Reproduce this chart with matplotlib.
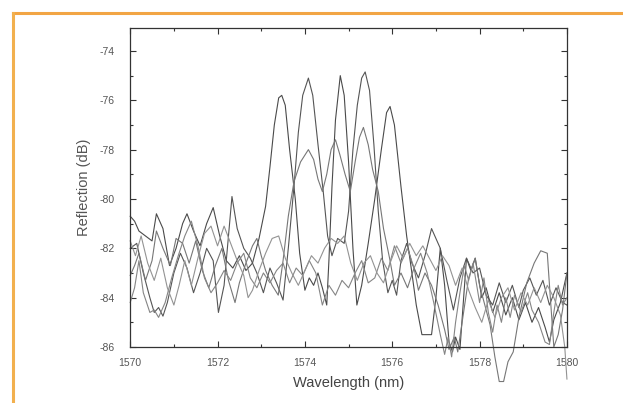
import matplotlib
matplotlib.use("Agg")
import matplotlib.pyplot as plt
from matplotlib.lines import Line2D
from matplotlib.ticker import MultipleLocator

plt.rcParams['font.family'] = ['Liberation Sans', 'DejaVu Sans']
plt.rcParams['axes.unicode_minus'] = False

# trace 1: peaks at 1573.5, 1574.8, 1576.0
x1 = [1570.0, 1570.1, 1570.2, 1570.35, 1570.5, 1570.6, 1570.75, 1570.9, 1571.05, 1571.2,
      1571.3, 1571.45, 1571.6, 1571.75, 1571.9, 1572.05, 1572.2, 1572.35, 1572.5, 1572.65,
      1572.8, 1572.95, 1573.1, 1573.2, 1573.3, 1573.4, 1573.47, 1573.55, 1573.65, 1573.78,
      1573.88, 1574.0, 1574.1, 1574.2, 1574.3, 1574.4, 1574.5, 1574.55, 1574.62, 1574.7,
      1574.81, 1574.9, 1575.0, 1575.1, 1575.19, 1575.3, 1575.45, 1575.6, 1575.75, 1575.87,
      1575.95, 1576.05, 1576.2, 1576.33, 1576.45, 1576.55, 1576.68, 1576.78, 1576.9, 1577.0,
      1577.1, 1577.2, 1577.3, 1577.38, 1577.45, 1577.55, 1577.7, 1577.8, 1577.9, 1578.05,
      1578.15, 1578.3, 1578.45, 1578.6, 1578.75, 1578.9, 1579.05, 1579.2, 1579.35, 1579.5,
      1579.6, 1579.7, 1579.85, 1580.0]
y1 = [-80.7, -80.9, -81.3, -81.5, -81.7, -80.6, -81.2, -82.7, -82.0, -81.0,
      -80.6, -81.3, -81.9, -81.0, -80.35, -81.5, -82.5, -82.8, -82.3, -82.9,
      -82.6, -81.6, -80.3, -78.7, -77.0, -75.9, -75.8, -76.2, -78.0, -80.0,
      -82.2, -83.7, -83.2, -83.5, -83.0, -83.6, -84.3, -82.5, -79.5, -76.8,
      -75.0, -75.8, -78.5, -82.0, -84.3, -83.5, -81.8, -80.0, -78.0, -76.5,
      -76.25, -77.0, -79.5, -81.5, -83.0, -84.3, -85.5, -85.5, -85.5, -84.0,
      -82.0, -83.5, -85.8, -86.2, -85.6, -86.1, -82.4, -82.9, -82.4, -84.0,
      -83.6, -84.6, -83.8, -84.7, -84.0, -84.9, -84.2, -85.0, -84.4, -85.2,
      -85.8, -84.9, -84.2, -83.0]

# trace 2: peaks at 1574.1, 1575.4
x2 = [1570.0, 1570.15, 1570.3, 1570.45, 1570.55, 1570.65, 1570.75, 1570.85, 1571.0, 1571.15,
      1571.3, 1571.45, 1571.6, 1571.75, 1571.9, 1572.02, 1572.15, 1572.25, 1572.33, 1572.45,
      1572.6, 1572.75, 1572.9, 1573.05, 1573.2, 1573.35, 1573.5, 1573.62, 1573.75, 1573.85,
      1573.95, 1574.08, 1574.18, 1574.3, 1574.42, 1574.52, 1574.62, 1574.75, 1574.9, 1575.0,
      1575.1, 1575.2, 1575.3, 1575.38, 1575.48, 1575.58, 1575.68, 1575.78, 1575.9, 1576.0,
      1576.1, 1576.2, 1576.33, 1576.45, 1576.6, 1576.75, 1576.9, 1577.0, 1577.1, 1577.25,
      1577.4, 1577.55, 1577.7, 1577.85, 1578.0, 1578.15, 1578.3, 1578.45, 1578.6, 1578.75,
      1578.9, 1579.0, 1579.15, 1579.3, 1579.45, 1579.6, 1579.75, 1579.9, 1580.0]
y2 = [-82.0, -81.8, -83.0, -84.0, -84.6, -84.4, -84.75, -84.2, -83.0, -82.2,
      -82.8, -83.8, -83.0, -82.0, -82.5, -84.6, -83.5, -81.5, -79.9, -81.2,
      -82.0, -82.4, -83.0, -83.8, -82.8, -83.4, -84.1, -82.0, -79.5, -77.3,
      -75.8, -75.1, -75.8, -77.8, -79.7, -81.5, -82.3, -81.6, -81.8, -80.5,
      -78.0, -76.2, -75.1, -74.85, -75.6, -77.8, -80.5, -82.5, -83.8, -83.3,
      -83.9, -82.5, -81.8, -82.6, -83.2, -82.3, -81.2, -81.6, -82.0, -83.3,
      -84.5, -83.2, -82.4, -83.0, -82.8, -83.9, -84.3, -83.4, -84.2, -83.5,
      -84.4, -83.7, -83.2, -83.9, -83.3, -84.3, -83.6, -84.2, -84.3]

# trace 3: lower comb 1574.1 / 1574.7 / 1575.3
x3 = [1570.0, 1570.1, 1570.2, 1570.35, 1570.5, 1570.6, 1570.75, 1570.92, 1571.05, 1571.2,
      1571.35, 1571.5, 1571.65, 1571.8, 1571.95, 1572.1, 1572.25, 1572.4, 1572.5, 1572.65,
      1572.8, 1572.9, 1573.0, 1573.1, 1573.25, 1573.39, 1573.5, 1573.62, 1573.75, 1573.9,
      1574.08, 1574.2, 1574.3, 1574.4, 1574.5, 1574.6, 1574.7, 1574.8, 1574.92, 1575.04,
      1575.15, 1575.25, 1575.34, 1575.45, 1575.55, 1575.68, 1575.8, 1575.95, 1576.05, 1576.2,
      1576.35, 1576.5, 1576.6, 1576.75, 1576.9, 1577.05, 1577.2, 1577.3, 1577.42, 1577.5,
      1577.6, 1577.75, 1577.9, 1578.0, 1578.12, 1578.24, 1578.35, 1578.45, 1578.55, 1578.65,
      1578.77, 1578.9, 1579.08, 1579.25, 1579.4, 1579.55, 1579.62, 1579.7, 1579.8, 1579.9,
      1580.0]
y3 = [-83.1, -82.7, -82.2, -83.3, -82.5, -81.3, -82.0, -82.7, -81.6, -81.8,
      -82.6, -81.7, -82.9, -83.6, -82.7, -82.0, -83.3, -84.2, -83.4, -82.6,
      -81.9, -81.6, -82.3, -82.9, -83.5, -83.9, -82.5, -80.7, -79.3, -78.5,
      -78.0, -78.4, -79.2, -79.7, -79.0, -78.0, -77.6, -78.2, -79.0, -79.7,
      -78.5, -77.5, -77.1, -77.8, -78.8, -79.7, -81.2, -82.5, -83.5, -83.0,
      -83.6, -82.8, -83.7, -83.0, -83.5, -84.3, -85.3, -86.1, -85.6, -86.2,
      -85.0, -83.2, -82.4, -83.5, -84.3, -85.1, -86.4, -87.4, -87.4, -86.6,
      -86.2, -84.8, -83.4, -82.6, -82.1, -82.2, -84.0, -86.0, -85.5, -84.5,
      -83.0]

# trace 4: noise floor
x4 = [1570.0, 1570.1, 1570.2, 1570.3, 1570.45, 1570.55, 1570.65, 1570.8, 1570.95, 1571.1,
      1571.25, 1571.4, 1571.55, 1571.7, 1571.85, 1572.0, 1572.15, 1572.3, 1572.45, 1572.6,
      1572.75, 1572.9, 1573.05, 1573.2, 1573.35, 1573.5, 1573.65, 1573.8, 1573.95, 1574.1,
      1574.25, 1574.4, 1574.55, 1574.7, 1574.85, 1575.0, 1575.15, 1575.3, 1575.45, 1575.6,
      1575.75, 1575.9, 1576.05, 1576.2, 1576.35, 1576.5, 1576.65, 1576.8, 1576.95, 1577.1,
      1577.2, 1577.28, 1577.36, 1577.45, 1577.55, 1577.65, 1577.75, 1577.85, 1578.0, 1578.1,
      1578.2, 1578.3, 1578.4, 1578.5, 1578.6, 1578.7, 1578.8, 1578.95, 1579.1, 1579.2,
      1579.35, 1579.5, 1579.6, 1579.7, 1579.8, 1579.9, 1580.0]
y4 = [-84.2, -83.6, -82.5, -83.8, -84.6, -84.5, -84.8, -84.2, -83.2, -82.3,
      -81.5, -80.9, -81.9, -83.2, -83.8, -83.4, -82.9, -83.3, -82.6, -82.2,
      -83.2, -83.6, -83.0, -83.4, -82.9, -82.6, -83.4, -82.8, -83.1, -82.5,
      -83.0, -84.3, -83.5, -83.9, -83.3, -83.6, -83.0, -82.5, -83.4, -83.2,
      -82.4, -82.9, -81.9, -82.6, -82.0, -82.8, -82.2, -83.0, -84.2, -85.5,
      -86.3, -85.6, -86.4, -85.0, -83.8, -82.7, -83.3, -82.6, -84.2, -83.2,
      -84.6, -85.4, -84.3, -85.0, -84.0, -84.8, -83.9, -84.6, -83.8, -84.5,
      -85.0, -85.8, -85.9, -84.6, -83.5, -84.3, -84.0]

# trace 5: noise floor, drops at the right end
x5 = [1570.0, 1570.12, 1570.25, 1570.4, 1570.55, 1570.7, 1570.85, 1571.0, 1571.12, 1571.25,
      1571.4, 1571.55, 1571.7, 1571.85, 1572.0, 1572.15, 1572.3, 1572.45, 1572.6, 1572.7,
      1572.8, 1572.95, 1573.1, 1573.25, 1573.4, 1573.55, 1573.7, 1573.85, 1574.0, 1574.15,
      1574.3, 1574.45, 1574.6, 1574.75, 1574.9, 1575.05, 1575.2, 1575.35, 1575.5, 1575.65,
      1575.8, 1575.95, 1576.1, 1576.25, 1576.4, 1576.55, 1576.7, 1576.85, 1577.0, 1577.15,
      1577.3, 1577.45, 1577.6, 1577.75, 1577.9, 1578.05, 1578.2, 1578.35, 1578.5, 1578.65,
      1578.8, 1578.95, 1579.1, 1579.25, 1579.4, 1579.55, 1579.7, 1579.85, 1579.95, 1580.0]
y5 = [-81.7, -82.3, -81.5, -82.6, -83.3, -82.4, -83.6, -84.3, -83.5, -82.5,
      -83.5, -82.4, -81.4, -81.1, -81.9, -81.1, -81.8, -82.5, -83.1, -84.0,
      -83.7, -82.9, -82.2, -81.6, -81.5, -82.4, -83.0, -83.5, -82.9, -82.3,
      -82.6, -82.0, -81.6, -81.8, -81.5, -82.6, -83.3, -82.6, -82.3, -83.0,
      -83.4, -82.6, -81.9, -82.4, -81.8, -82.3, -81.9, -82.4, -82.9, -82.3,
      -82.7, -83.5, -82.8, -83.7, -84.4, -85.0, -84.1, -84.8, -84.0, -83.6,
      -84.5, -83.8, -84.3, -83.6, -84.2, -83.5, -84.0, -84.7, -86.0, -87.3]

traces = [(x1, y1, '#4a4a4a'), (x2, y2, '#555555'), (x3, y3, '#777777'),
          (x4, y4, '#858585'), (x5, y5, '#939393')]

fig = plt.figure(figsize=(6.23, 4.03), dpi=100)
ax = fig.add_axes([0.209, 0.139, 0.701, 0.7915])

for xs, ys, c in traces:
    ax.plot(xs, ys, color=c, linewidth=0.8, clip_on=False)

ax.set_xlim(1570, 1580)
ax.set_ylim(-86, -73.07)
ax.xaxis.set_major_locator(MultipleLocator(2))
ax.xaxis.set_minor_locator(MultipleLocator(1))
ax.yaxis.set_major_locator(MultipleLocator(2))
ax.yaxis.set_minor_locator(MultipleLocator(1))
ax.tick_params(which='both', direction='in', top=True, right=True,
               colors='#333333', labelcolor='#555555', width=0.8)
ax.tick_params(which='major', length=4, labelsize=7.5)
ax.tick_params(which='minor', length=2.5)
ax.tick_params(axis='x', pad=8)
ax.tick_params(axis='y', pad=11)
for s in ax.spines.values():
    s.set_color('#333333')
    s.set_linewidth(0.9)

ax.set_xlabel('Wavelength (nm)', fontsize=10.5, color='#444444', labelpad=6)
ax.set_ylabel('Reflection (dB)', fontsize=10.5, color='#555555', labelpad=6)

# orange frame of the scanned page
fig.add_artist(Line2D([13 / 623, 1], [1 - 13 / 403, 1 - 13 / 403],
                      transform=fig.transFigure, color='#f2a544', linewidth=2.2))
fig.add_artist(Line2D([13 / 623, 13 / 623], [0, 1 - 13 / 403],
                      transform=fig.transFigure, color='#f2b04e', linewidth=2.2))

fig.savefig('out.png', dpi=100)
